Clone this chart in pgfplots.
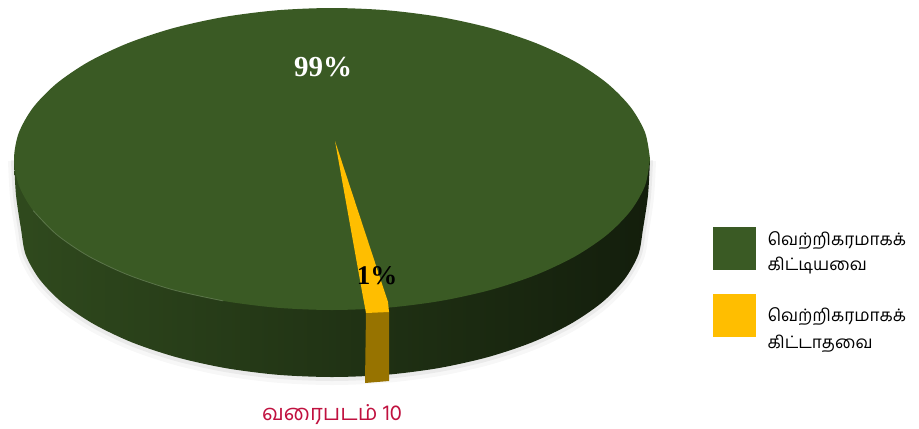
\documentclass[border=0pt]{standalone}
\usepackage{fontspec}
\setmainfont{Liberation Serif}
\newfontfamily\tamil[Script=Tamil]{Hind Madurai}
\usepackage{pgfplots}
\usepackage{pgfplotstable}
\pgfplotsset{compat=1.18}

\definecolor{pieGreen}{HTML}{3A5A24}
\definecolor{pieGold}{HTML}{FFBE00}
\definecolor{sideGold}{HTML}{977300}
\definecolor{capRed}{HTML}{C0113F}

% outline of the lower rim, in pixels of the picture
\pgfplotstableread{
x y
650 159
648 195
643 229
638.3 254.7
624.2 279.6
601.3 303
570.2 324.1
531.9 342.4
487.5 357.2
438.4 368.1
386 374.8
332 377
278 374.8
225.6 368.1
176.5 357.2
132.1 342.4
93.8 324.1
62.7 303
39.8 279.6
25.7 254.7
21 229
16 195
14 159
}\rimtable

\begin{document}
\begin{tikzpicture}
\begin{axis}[
    scale only axis,
    width=919pt,
    height=428pt,
    xmin=0, xmax=919,
    ymin=0, ymax=428,
    y dir=reverse,
    hide axis,
    clip=false,
    legend style={
        at={(axis cs:713,227)}, anchor=north west,
        draw=none, fill=none, inner sep=0pt, outer sep=0pt,
        row sep=24pt,
        font=\tamil\fontsize{17.2}{25}\selectfont,
        cells={anchor=west, align=left},
        /tikz/every even column/.style={column sep=12pt},
    },
    legend cell align=left,
]
% soft shadow under the pie
\addplot[forget plot, smooth, draw=black, opacity=0.03, line width=12pt, yshift=-2pt] table[x=x,y=y] {\rimtable};
\addplot[forget plot, smooth, draw=black, opacity=0.05, line width=6pt, yshift=-1pt] table[x=x,y=y] {\rimtable};
% side wall
\addplot[forget plot, smooth, draw=none, left color=pieGreen!82!black, middle color=pieGreen!46!black, right color=pieGreen!33!black]
    table[x=x,y=y] {\rimtable} -- cycle;
% top face, 99%
\addplot[smooth, draw=none, fill=pieGreen,
    legend image code/.code={\fill[pieGreen] (0pt,-21.5pt) rectangle (43pt,21.5pt); \path (52.5pt,0pt);}]
    coordinates {(650,159)(645.2,185.2)(630.8,210.6)(607.4,234.5)(575.6,256.1)(536.4,274.7)(491,289.8)(440.8,300.9)(387.2,307.7)(332,310)(276.8,307.7)(223.2,300.9)(173,289.8)(127.6,274.7)(88.4,256.1)(56.6,234.5)(33.2,210.6)(18.8,185.2)(14,159)(18.8,132.8)(33.2,107.4)(56.6,83.5)(88.4,61.9)(127.6,43.3)(173,28.2)(223.2,17.1)(276.8,10.3)(332,8)(387.2,10.3)(440.8,17.1)(491,28.2)(536.4,43.3)(575.6,61.9)(607.4,83.5)(630.8,107.4)(645.2,132.8)(650,159)} -- cycle;
\addlegendentry{\raisebox{-6pt}{\shortstack[l]{வெற்றிகரமாகக்\\[5pt]கிட்டியவை}}}
% light edge on the left of the rim
\addplot[forget plot, smooth, draw=pieGreen!75!white, opacity=0.7, line width=0.8pt]
    coordinates {(33.2,210.6)(56.6,234.5)(88.4,256.1)(127.6,274.7)(173,289.8)(223.2,300.9)};
% side of the small slice
\addplot[forget plot, draw=none, fill=sideGold] coordinates {(366,312)(389,311)(389,381)(365,383)} -- cycle;
% top of the small slice, 1%
\addplot[draw=none, fill=pieGold,
    legend image code/.code={\fill[pieGold] (0pt,-21.5pt) rectangle (43pt,21.5pt); \path (52.5pt,0pt);}]
    coordinates {(335,141)(363,297)(366,313)(389,312)(388,302)} -- cycle;
\addlegendentry{\raisebox{-26pt}{\shortstack[l]{வெற்றிகரமாகக்\\[7pt]கிட்டாதவை}}}

\node[text=white, font=\bfseries\fontsize{29}{31}\selectfont] at (axis cs:323,67) {99\%};
\node[text=black, font=\bfseries\fontsize{27}{29}\selectfont] at (axis cs:377,276) {1\%};
\node[text=capRed, font=\tamil\fontsize{22}{26}\selectfont] at (axis cs:332,415) {வரைபடம் 10};
\path (axis cs:0,0) rectangle (axis cs:919,428);
\end{axis}
\end{tikzpicture}
\end{document}
